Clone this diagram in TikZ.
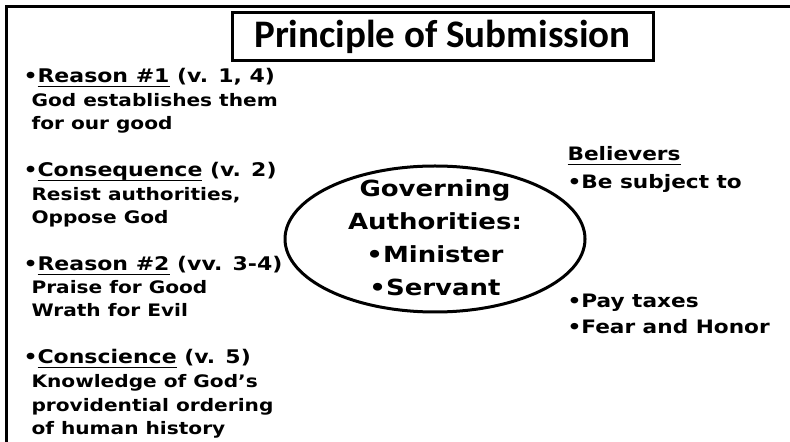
\documentclass[tikz,border=0pt]{standalone}
\usepackage{fontspec}
\usepackage{tikz}
\usetikzlibrary{shapes.geometric}
\newfontfamily\slidefont{DejaVu Sans Bold}[FakeStretch=1.17]
\newfontfamily\titlefont{Carlito Bold}
\newcommand{\ulword}[1]{\setbox0\hbox{#1}\rlap{\rule[-2.2pt]{\wd0}{0.9pt}}\box0\relax}

\tikzset{
  headtext/.style={anchor=base west, inner sep=0pt, font=\slidefont\fontsize{9.4}{11}\selectfont},
  subtext/.style={anchor=base west, inner sep=0pt, font=\slidefont\fontsize{8.6}{10}\selectfont},
  sidetext/.style={anchor=base west, inner sep=0pt, font=\slidefont\fontsize{9.25}{11}\selectfont},
  ovaltext/.style={anchor=base, inner sep=0pt, font=\slidefont\fontsize{11.1}{13}\selectfont}
}

\begin{document}
\begin{tikzpicture}[x=0.5pt, y=-0.5pt, line width=1.5pt]
            \useasboundingbox (0,0) rectangle (790,442);
            % frame
            \draw (6,442) -- (6,6.5) -- (790,6.5);
            % title
            \node[draw, minimum width=210.5pt, minimum height=24pt, inner sep=0pt,
                  font=\titlefont\fontsize{19.5}{22}\selectfont] (title) at (442.5,37) {Principle of Submission};
            % left column
            \foreach \y/\txt in {83/{•\ulword{Reason \#1} (v. 1, 4)}, 177/{•\ulword{Consequence} (v. 2)},
                                 271/{•\ulword{Reason \#2} (vv. 3-4)}, 364/{•\ulword{Conscience} (v. 5)}} {
                \node[headtext] (head\y) at (22,\y) {\txt};
            }
            \foreach \y/\txt in {107/God establishes them, 130/for our good, 201/{Resist authorities,},
                                 224/Oppose God, 294/Praise for Good, 317/Wrath for Evil,
                                 387/Knowledge of God’s, 411/providential ordering, 434/of human history} {
                \node[subtext] (sub\y) at (30,\y) {\txt};
            }
            % oval
            \node[draw, ellipse, minimum width=150pt, minimum height=73pt] (oval) at (435,239) {};
            \foreach \y/\txt in {197/Governing, 230/Authorities:, 263/•Minister, 296/•Servant} {
                \node[ovaltext] (gov\y) at (435,\y) {\txt};
            }
            % right column
            \foreach \y/\txt in {161/\ulword{Believers}, 189/•Be subject to, 307/•Pay taxes, 334/•Fear and Honor} {
                \node[sidetext] (side\y) at (566,\y) {\txt};
            }
        \end{tikzpicture}
\end{document}
